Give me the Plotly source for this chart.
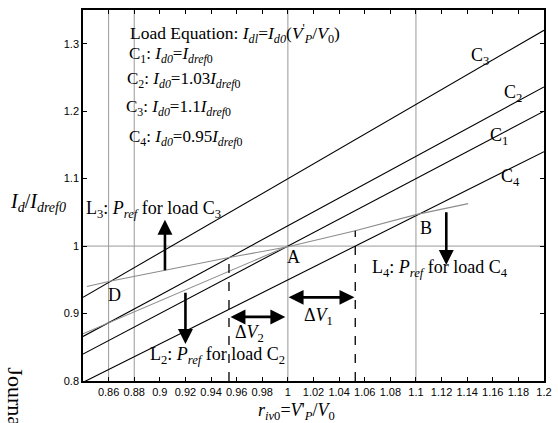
import plotly.graph_objects as go

# ---- data ----
x_pts = [0.84, 0.90, 1.00, 1.10, 1.20]
c1_vals = [0.840, 0.900, 1.000, 1.100, 1.200]
c2_vals = [0.866, 0.927, 1.030, 1.133, 1.236]
c3_vals = [0.924, 0.990, 1.100, 1.210, 1.320]
c4_vals = [0.798, 0.855, 0.950, 1.045, 1.140]

pref_upper_x = [0.843, 0.861, 0.954, 1.000, 1.0526, 1.100, 1.1408]
pref_upper_y = [0.940, 0.948, 0.983, 0.999, 1.0227, 1.0466, 1.063]
pref_lower_x = [0.840, 0.920, 1.000]
pref_lower_y = [0.870, 0.935, 1.000]

grid_x = [0.86, 0.88, 1.0, 1.1]
grid_y = [1.0]
dash_x = [0.954, 1.0526]
dash_top = [0.983, 1.0227]

x_ticks = [0.86, 0.88, 0.9, 0.92, 0.94, 0.96, 0.98, 1.0, 1.02, 1.04, 1.06,
           1.08, 1.1, 1.12, 1.14, 1.16, 1.18, 1.2]
x_tick_text = ["0.86", "0.88", "0.9", "0.92", "0.94", "0.96", "0.98", "1",
               "1.02", "1.04", "1.06", "1.08", "1.1", "1.12", "1.14", "1.16",
               "1.18", "1.2"]
y_ticks = [0.8, 0.9, 1.0, 1.1, 1.2, 1.3]
y_tick_text = ["0.8", "0.9", "1", "1.1", "1.2", "1.3"]

SERIF = "Liberation Serif, Times New Roman, serif"
SANS = "Liberation Sans, Arial, sans-serif"

fig = go.Figure()
for yv in [c1_vals, c2_vals, c3_vals, c4_vals]:
    fig.add_trace(go.Scatter(x=x_pts, y=yv, mode="lines",
                             line=dict(color="black", width=1.1),
                             showlegend=False, hoverinfo="skip"))
fig.add_trace(go.Scatter(x=pref_upper_x, y=pref_upper_y, mode="lines",
                         line=dict(color="#8c8c8c", width=1.1),
                         showlegend=False, hoverinfo="skip"))
fig.add_trace(go.Scatter(x=pref_lower_x, y=pref_lower_y, mode="lines",
                         line=dict(color="#8c8c8c", width=1.1),
                         showlegend=False, hoverinfo="skip"))

shapes = []
for gx in grid_x:
    shapes.append(dict(type="line", xref="x", yref="y", x0=gx, x1=gx,
                       y0=0.8, y1=1.35, line=dict(color="#999999", width=1),
                       layer="below"))
for gy in grid_y:
    shapes.append(dict(type="line", xref="x", yref="y", x0=0.84, x1=1.2,
                       y0=gy, y1=gy, line=dict(color="#999999", width=1),
                       layer="below"))
for dx, dt in zip(dash_x, dash_top):
    shapes.append(dict(type="line", xref="x", yref="y", x0=dx, x1=dx,
                       y0=0.8, y1=dt, line=dict(color="black", width=1.3,
                                                dash="dash")))

ann = []


def txt(x, y, t, size=17, xanchor="center", yanchor="middle"):
    ann.append(dict(x=x, y=y, xref="x", yref="y", text=t, showarrow=False,
                    xanchor=xanchor, yanchor=yanchor,
                    font=dict(family=SERIF, size=size, color="black")))


def arrow(x0, y0, x1, y1, both=False):
    ann.append(dict(x=x1, y=y1, ax=x0, ay=y0, xref="x", yref="y",
                    axref="x", ayref="y", text="", showarrow=True,
                    arrowhead=2, arrowsize=1.15, arrowwidth=2.6,
                    arrowcolor="black", standoff=0, startstandoff=0,
                    arrowside="end+start" if both else "end",
                    startarrowhead=2, startarrowsize=1.15))


sub_d0 = "<i>I</i><sub><i>d0</i></sub>"
sub_ref = "<i>I</i><sub><i>dref</i>0</sub>"
txt(0.8753, 1.3157, "Load Equation: <i>I</i><sub><i>dl</i></sub>=<i>I</i><sub><i>d0</i></sub>(<i>V</i><sup>'</sup><sub><i>P</i></sub>/<i>V</i><sub>0</sub>)", size=17.5, xanchor="left")
txt(0.8745, 1.2828, "C<sub>1</sub>: " + sub_d0 + "=" + sub_ref, xanchor="left")
txt(0.8730, 1.2455, "C<sub>2</sub>: " + sub_d0 + "=1.03" + sub_ref, xanchor="left")
txt(0.8722, 1.2052, "C<sub>3</sub>: " + sub_d0 + "=1.1" + sub_ref, xanchor="left")
txt(0.8745, 1.1604, "C<sub>4</sub>: " + sub_d0 + "=0.95" + sub_ref, xanchor="left")

txt(0.841, 1.054, "L<sub>3</sub>: <i>P</i><sub><i>ref</i></sub> for load C<sub>3</sub>", size=18, xanchor="left")
txt(0.8905, 0.8376, "L<sub>2</sub>: <i>P</i><sub><i>ref</i></sub> for load C<sub>2</sub>", size=18, xanchor="left")
txt(1.064, 0.967, "L<sub>4</sub>: <i>P</i><sub><i>ref</i></sub> for load C<sub>4</sub>", size=18, xanchor="left")

txt(1.004, 0.984, "A", size=18)
txt(1.1076, 1.027, "B", size=18)
txt(0.8646, 0.927, "D", size=18)
txt(0.970, 0.870, "Δ<i>V</i><sub>2</sub>", size=18)
txt(1.024, 0.895, "Δ<i>V</i><sub>1</sub>", size=18)

txt(1.1498, 1.281, "C<sub>3</sub>", size=18)
txt(1.1754, 1.226, "C<sub>2</sub>", size=18)
txt(1.1652, 1.162, "C<sub>1</sub>", size=18)
txt(1.174, 1.102, "C<sub>4</sub>", size=18)

arrow(0.904, 0.962, 0.904, 1.039)
arrow(0.920, 0.933, 0.920, 0.855)
arrow(1.1237, 1.0525, 1.1237, 0.972)
arrow(0.954, 0.895, 0.998, 0.895, both=True)
arrow(0.9994, 0.924, 1.052, 0.924, both=True)

# axis titles
ann.append(dict(x=-0.098, y=0.48, xref="paper", yref="paper",
                text="<i>I</i><sub><i>d</i></sub>/<i>I</i><sub><i>dref0</i></sub>",
                showarrow=False, xanchor="center", yanchor="middle",
                font=dict(family=SERIF, size=20, color="black")))
ann.append(dict(x=0.463, y=-0.081, xref="paper", yref="paper",
                text="<i>r</i><sub><i>iv</i>0</sub>=<i>V</i>'<sub><i>P</i></sub>/<i>V</i><sub>0</sub>",
                showarrow=False, xanchor="center", yanchor="middle",
                font=dict(family=SERIF, size=18, color="black")))
ann.append(dict(x=-0.147, y=0.043, xref="paper", yref="paper",
                text="Journal", textangle=90,
                showarrow=False, xanchor="center", yanchor="top",
                font=dict(family=SERIF, size=22, color="black")))

fig.update_layout(
    width=558, height=423,
    margin=dict(l=83, r=6, t=10, b=42),
    paper_bgcolor="white", plot_bgcolor="white",
    shapes=shapes, annotations=ann,
    xaxis=dict(range=[0.84, 1.2], tickvals=x_ticks, ticktext=x_tick_text,
               ticks="inside", ticklen=4, tickcolor="black", showgrid=False,
               zeroline=False, showline=True, linecolor="black", linewidth=1.5,
               mirror="ticks", tickfont=dict(family=SANS, size=11, color="black")),
    yaxis=dict(range=[0.8, 1.35], tickvals=y_ticks, ticktext=y_tick_text,
               ticks="inside", ticklen=4, tickcolor="black", showgrid=False,
               zeroline=False, showline=True, linecolor="black", linewidth=1.5,
               mirror="ticks", tickfont=dict(family=SANS, size=11, color="black")),
)

fig.write_html("out.html",
               config={"displayModeBar": False},
               post_script="document.body.style.margin='0px';"
                           "document.body.style.overflow='hidden';")
